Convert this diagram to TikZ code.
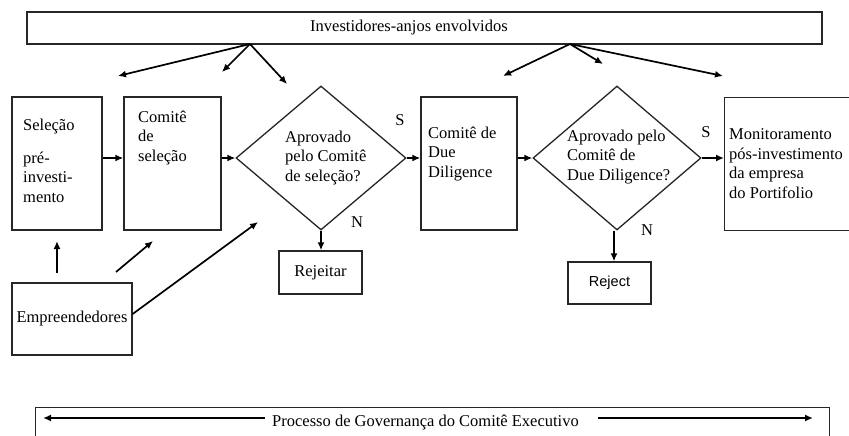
\documentclass[tikz,border=0pt]{standalone}
\usepackage{fontspec}
\setmainfont{Liberation Serif}
\newfontfamily\sansf{Liberation Sans}
\usetikzlibrary{shapes.geometric,arrows.meta}
\begin{document}
\begin{tikzpicture}[x=1pt,y=-1pt,
  box/.style={draw=black!85,line width=1.3pt,inner sep=0pt,font=\fontsize{16.5}{19.5}\selectfont},
  txt/.style={inner sep=0pt,align=left,font=\fontsize{16.5}{19.5}\selectfont},
  arr/.style={line width=1.7pt,-{Latex[length=8pt,width=7pt]}},
  dia/.style={diamond,draw=black!85,line width=1.3pt,inner sep=0pt,minimum width=170pt,minimum height=144pt}
]
\useasboundingbox (0,0) rectangle (849,436);
\clip (0,0) rectangle (849,436);
\fill[white] (0,0) rectangle (849,436);

% top box
\node[box,minimum width=795pt,minimum height=32pt] (inv) at (424.5,28) {};
\node[txt,anchor=base west] (invt) at (310,32) {Investidores-anjos envolvidos};
\coordinate (o1) at (250,44);
\coordinate (o2) at (570,44);
\coordinate (a1) at (118,76);
\coordinate (a2) at (222,72);
\coordinate (a3) at (287,84);
\coordinate (b1) at (503,76);
\coordinate (b2) at (603,64);
\coordinate (b3) at (723,76);

% main row
\node[box,minimum width=90pt,minimum height=133pt] (sel) at (57,163.5) {};
\node[box,minimum width=97pt,minimum height=133pt] (com) at (172.5,163.5) {};
\node[dia] (d1) at (321,158) {};
\node[box,minimum width=96pt,minimum height=133pt] (dd) at (469,163.5) {};
\node[dia,minimum width=168pt] (d2) at (617,158) {};
\node[box,minimum width=200pt,minimum height=133pt,anchor=north west] (mon) at (724,97) {};

\node[txt,anchor=base west] (selt) at (23,202) {Seleção\\[13pt]pré-\\investi-\\mento};
\node[txt,anchor=base west] (comt) at (138,161) {Comitê\\de\\seleção};
\node[txt,anchor=base west] (d1t) at (285,181) {Aprovado\\pelo Comitê\\de seleção?};
\node[txt,anchor=base west] (ddt) at (428,177) {Comitê de\\Due\\Diligence};
\node[txt,anchor=base west] (d2t) at (567,180) {Aprovado pelo\\Comitê de\\Due Diligence?};
\node[txt,anchor=base west] (mont) at (729,198) {Monitoramento\\pós-investimento\\da empresa\\do Portifolio};

\node[txt] (s1) at (400,120) {S};
\node[txt] (n1) at (357,222) {N};
\node[txt] (s2) at (706,132) {S};
\node[txt] (n2) at (647,230) {N};

% lower boxes
\node[box,minimum width=83pt,minimum height=43pt] (rej) at (320.5,272.5) {Rejeitar};
\node[box,minimum width=83pt,minimum height=42pt,font=\sansf\fontsize{14.5}{17}\selectfont] (rjt) at (609.5,283) {Reject};
\node[box,minimum width=120pt,minimum height=72pt] (emp) at (72,319) {Empreendedores};

% governance
\node[box,minimum width=794pt,minimum height=50pt,anchor=north west] (gov) at (35,407) {};
\node[txt,anchor=base] (govt) at (425.5,426) {Processo de Governança do Comitê Executivo};
\coordinate (g1) at (265,418);
\coordinate (g2) at (43,418);
\coordinate (g3) at (598,418);
\coordinate (g4) at (813,418);

\coordinate (e1) at (57,273);
\coordinate (e1e) at (57,241);
\coordinate (e2) at (116,272);
\coordinate (e2e) at (153,241);
\coordinate (e3e) at (258,222);

% connectors
\draw[arr] (o1) -- (a1);
\draw[arr] (o1) -- (a2);
\draw[arr] (o1) -- (a3);
\draw[arr] (o2) -- (b1);
\draw[arr] (o2) -- (b2);
\draw[arr] (o2) -- (b3);
\draw[arr] (sel.east |- d1.center) -- (com.west |- d1.center);
\draw[arr] (com.east |- d1.center) -- (d1.west);
\draw[arr] (d1.east) -- (dd.west |- d1.center);
\draw[arr] (dd.east |- d2.center) -- (d2.west);
\draw[arr] (d2.east) -- (mon.west |- d2.center);
\draw[arr] (d1.south) -- (d1.south |- rej.north);
\draw[arr] ([xshift=-3pt]d2.south) -- ([xshift=-3pt]d2.south |- rjt.north);
\draw[arr] (e1) -- (e1e);
\draw[arr] (e2) -- (e2e);
\draw[arr] ([yshift=5pt]emp.east) -- (e3e);
\draw[arr] (g1) -- (g2);
\draw[arr] (g3) -- (g4);
\end{tikzpicture}
\end{document}
